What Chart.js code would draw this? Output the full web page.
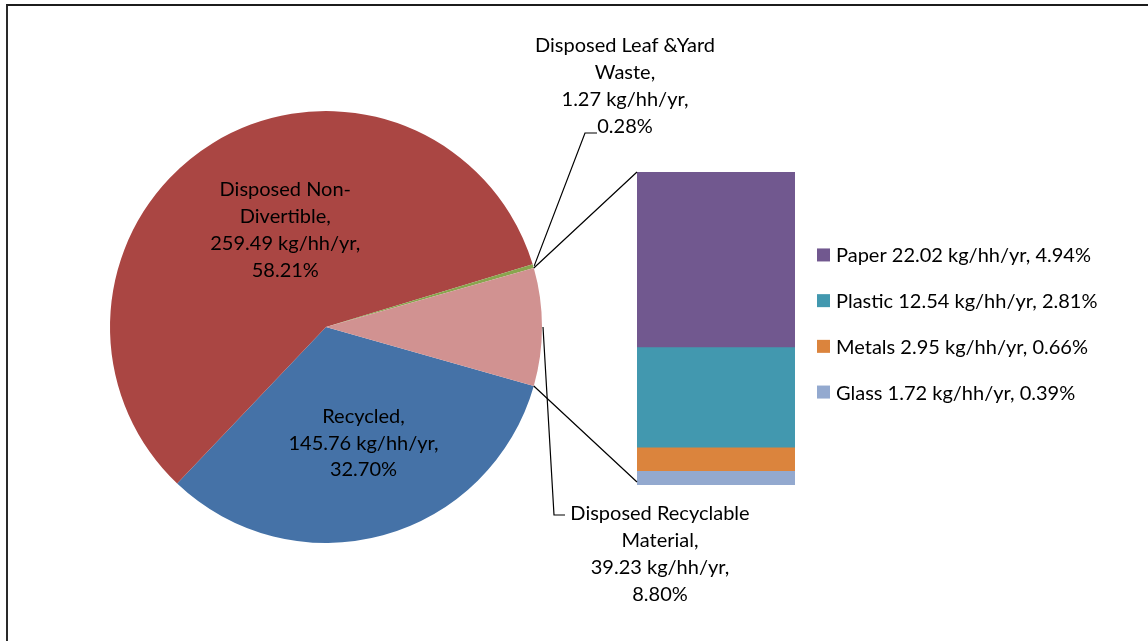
<!DOCTYPE html>
<html>
<head>
<meta charset="utf-8">
<script src="https://cdn.jsdelivr.net/npm/chart.js@4"></script>
<style>
  body { margin: 0; background: #fff; }
  #wrap { position: relative; width: 1148px; height: 641px; overflow: hidden; }
  #frame { position: absolute; left: 6px; top: 4px; width: 1160px; height: 660px;
           border-top: 2px solid #1c1c1c; border-left: 2px solid #2a2a2a; }
  canvas { position: absolute; left: 0; top: 0; }
</style>
</head>
<body>
<div id="wrap">
  <div id="frame"></div>
  <canvas id="pieChart" width="1148" height="641"></canvas>
  <canvas id="barChart" width="1148" height="641"></canvas>
</div>
<script>
// pie slices, clockwise from the right side
const pieNames = ["Recycled", "Disposed Non-Divertible", "Disposed Leaf &Yard Waste", "Disposed Recyclable Material"];
const pieNameLines = [["Recycled,"], ["Disposed Non-", "Divertible,"], ["Disposed Leaf &Yard", "Waste,"], ["Disposed Recyclable", "Material,"]];
const pieValues = [145.76, 259.49, 1.27, 39.23];
const piePercents = ["32.70%", "58.21%", "0.28%", "8.80%"];
const pieColors = ["#4572A7", "#AA4643", "#89A54E", "#D19291"];

// breakdown of the recyclable slice
const barNames = ["Paper", "Plastic", "Metals", "Glass"];
const barValues = [22.02, 12.54, 2.95, 1.72];
const barPercents = ["4.94%", "2.81%", "0.66%", "0.39%"];
const barColors = ["#71588F", "#4298AF", "#DB843D", "#93A9CF"];

const unit = " kg/hh/yr,";
const pieTotal = pieValues.reduce((a, b) => a + b, 0);
const barTotal = barValues.reduce((a, b) => a + b, 0);
const splitIdx = 3;

const FONT = "20px Lato";
const LH = 26.8;

// where each pie label goes: inside ones shift from the arc centroid, outside ones get a leader
const labelLayout = [
  { dx: 9, dy: 12 },
  { dx: 16, dy: -5 },
  { x: 625, y: 86, elbow: [585, 133], tail: 597 },
  { x: 660, y: 554, elbow: [554, 515], tail: 565 }
];

const drawLines = function (ctx, lines, cx, cy) {
  const y0 = cy - (lines.length - 1) * LH / 2;
  lines.forEach((t, i) => ctx.fillText(t, cx, y0 + i * LH));
};

const overlay = {
  id: "overlay",
  afterDraw(chart) {
    const ctx = chart.ctx;
    const arcs = pieChart.getDatasetMeta(0).data;
    ctx.save();
    ctx.strokeStyle = "#000";
    ctx.lineWidth = 1.2;
    ctx.fillStyle = "#000";
    ctx.font = FONT;
    ctx.textAlign = "center";
    ctx.textBaseline = "middle";

    // connectors from the split slice to the bar
    const sp = arcs[splitIdx].getProps(["x", "y", "startAngle", "endAngle", "outerRadius"], true);
    const top = chart.getDatasetMeta(barNames.length - 1).data[0];
    const bot = chart.getDatasetMeta(0).data[0];
    const barLeft = top.x - top.width / 2;
    ctx.beginPath();
    ctx.moveTo(sp.x + sp.outerRadius * Math.cos(sp.startAngle), sp.y + sp.outerRadius * Math.sin(sp.startAngle));
    ctx.lineTo(barLeft, top.y);
    ctx.moveTo(sp.x + sp.outerRadius * Math.cos(sp.endAngle), sp.y + sp.outerRadius * Math.sin(sp.endAngle));
    ctx.lineTo(barLeft, bot.base - 3);
    ctx.stroke();

    // pie labels
    arcs.forEach((arc, i) => {
      const lines = pieNameLines[i].concat([pieValues[i].toFixed(2) + unit, piePercents[i]]);
      const lay = labelLayout[i];
      if (lay.elbow) {
        const p = arc.getProps(["x", "y", "startAngle", "endAngle", "outerRadius"], true);
        const mid = (p.startAngle + p.endAngle) / 2;
        ctx.beginPath();
        ctx.moveTo(p.x + (p.outerRadius + 1) * Math.cos(mid), p.y + (p.outerRadius + 1) * Math.sin(mid));
        ctx.lineTo(lay.elbow[0], lay.elbow[1]);
        ctx.lineTo(lay.tail, lay.elbow[1]);
        ctx.stroke();
        drawLines(ctx, lines, lay.x, lay.y);
      } else {
        const c = arc.tooltipPosition(true);
        drawLines(ctx, lines, c.x + lay.dx, c.y + lay.dy);
      }
    });

    // legend for the bar
    const area = chart.chartArea;
    const gap = 45.7;
    const ly = (area.top + area.bottom) / 2 - 5 - gap * (barNames.length - 1) / 2;
    ctx.textAlign = "left";
    barNames.forEach((n, i) => {
      const y = ly + i * gap;
      ctx.fillStyle = barColors[i];
      ctx.fillRect(area.right + 22, y - 6.5, 13, 13);
      ctx.fillStyle = "#000";
      ctx.fillText(n + " " + barValues[i].toFixed(2) + " kg/hh/yr, " + barPercents[i], area.right + 41, y + 1);
    });
    ctx.restore();
  }
};

const pieChart = new Chart(document.getElementById("pieChart"), {
  type: "pie",
  data: {
    labels: pieNames,
    datasets: [{ data: pieValues, backgroundColor: pieColors, borderWidth: 0 }]
  },
  options: {
    responsive: false,
    animation: false,
    // centre the split slice on the right side, like Excel's bar-of-pie
    rotation: 90 + 180 * pieValues[splitIdx] / pieTotal,
    layout: { padding: { left: 110, top: 111, right: 606, bottom: 98 } },
    plugins: { legend: { display: false }, tooltip: { enabled: false } }
  }
});

const barChart = new Chart(document.getElementById("barChart"), {
  type: "bar",
  data: {
    labels: [""],
    datasets: barNames.map((n, i) => ({
      label: n,
      data: [barValues[i]],
      backgroundColor: barColors[i],
      borderWidth: 0,
      barPercentage: 1,
      categoryPercentage: 1
    })).reverse()
  },
  options: {
    responsive: false,
    animation: false,
    layout: { padding: { left: 637, right: 353, top: 172, bottom: 156 } },
    scales: {
      x: { stacked: true, display: false },
      y: { stacked: true, display: false, min: 0, max: barTotal }
    },
    plugins: { legend: { display: false }, tooltip: { enabled: false } }
  },
  plugins: [overlay]
});
</script>
</body>
</html>
